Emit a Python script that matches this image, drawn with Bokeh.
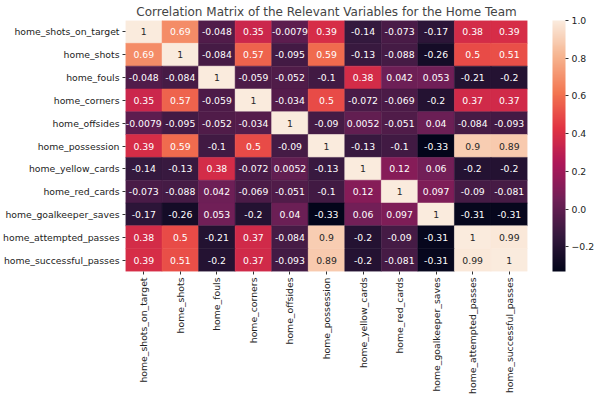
import numpy as np
from bokeh.plotting import figure
from bokeh.models import (ColumnDataSource, LinearColorMapper, ColorBar, FixedTicker)
from bokeh.core.properties import value
from bokeh.embed import file_html
from bokeh.resources import INLINE

variables = ["home_shots_on_target", "home_shots", "home_fouls", "home_corners",
             "home_offsides", "home_possession", "home_yellow_cards", "home_red_cards",
             "home_goalkeeper_saves", "home_attempted_passes", "home_successful_passes"]

row_shots_on_target = [1, 0.69, -0.048, 0.35, -0.0079, 0.39, -0.14, -0.073, -0.17, 0.38, 0.39]
row_shots = [0.69, 1, -0.084, 0.57, -0.095, 0.59, -0.13, -0.088, -0.26, 0.5, 0.51]
row_fouls = [-0.048, -0.084, 1, -0.059, -0.052, -0.1, 0.38, 0.042, 0.053, -0.21, -0.2]
row_corners = [0.35, 0.57, -0.059, 1, -0.034, 0.5, -0.072, -0.069, -0.2, 0.37, 0.37]
row_offsides = [-0.0079, -0.095, -0.052, -0.034, 1, -0.09, 0.0052, -0.051, 0.04, -0.084, -0.093]
row_possession = [0.39, 0.59, -0.1, 0.5, -0.09, 1, -0.13, -0.1, -0.33, 0.9, 0.89]
row_yellow_cards = [-0.14, -0.13, 0.38, -0.072, 0.0052, -0.13, 1, 0.12, 0.06, -0.2, -0.2]
row_red_cards = [-0.073, -0.088, 0.042, -0.069, -0.051, -0.1, 0.12, 1, 0.097, -0.09, -0.081]
row_goalkeeper_saves = [-0.17, -0.26, 0.053, -0.2, 0.04, -0.33, 0.06, 0.097, 1, -0.31, -0.31]
row_attempted_passes = [0.38, 0.5, -0.21, 0.37, -0.084, 0.9, -0.2, -0.09, -0.31, 1, 0.99]
row_successful_passes = [0.39, 0.51, -0.2, 0.37, -0.093, 0.89, -0.2, -0.081, -0.31, 0.99, 1]

rows = [row_shots_on_target, row_shots, row_fouls, row_corners, row_offsides,
        row_possession, row_yellow_cards, row_red_cards, row_goalkeeper_saves,
        row_attempted_passes, row_successful_passes]

cbar_ticks = [-0.2, 0.0, 0.2, 0.4, 0.6, 0.8, 1.0]
cbar_labels = ["\u22120.2", "0.0", "0.2", "0.4", "0.6", "0.8", "1.0"]

# rocket-like palette (seaborn)
anchors = ["#03051A", "#35193E", "#701F57", "#AD1759", "#E13342", "#F37651", "#F6B48F", "#FAEBDD"]
pos = np.linspace(0, 1, len(anchors))
rgb = np.array([[int(h[i:i + 2], 16) for i in (1, 3, 5)] for h in anchors], dtype=float)
t = np.linspace(0, 1, 256)
pal_rgb = np.stack([np.interp(t, pos, rgb[:, k]) for k in range(3)], axis=1)
palette = ["#%02x%02x%02x" % tuple(int(round(c)) for c in col) for col in pal_rgb]

flat = [v for r in rows for v in r]
vmin, vmax = min(flat), max(flat)


def color_of(v):
    idx = int(np.clip((v - vmin) / (vmax - vmin) * 255, 0, 255))
    return palette[idx], pal_rgb[idx] / 255.0


def lum(c):
    c = np.where(c <= 0.03928, c / 12.92, ((c + 0.055) / 1.055) ** 2.4)
    return 0.2126 * c[0] + 0.7152 * c[1] + 0.0722 * c[2]


xs, ys, vals, fills, labels, tcols = [], [], [], [], [], []
for i, r in enumerate(rows):
    for j, v in enumerate(r):
        xs.append(variables[j])
        ys.append(variables[i])
        vals.append(v)
        hexc, c = color_of(v)
        fills.append(hexc)
        labels.append("%g" % v)
        tcols.append("#262626" if lum(c) > 0.408 else "#ffffff")

src = ColumnDataSource(dict(x=xs, y=ys, v=vals, fill=fills, label=labels, tcol=tcols))

FS = "9.3px"

p = figure(x_range=variables, y_range=list(reversed(variables)),
           frame_width=402, frame_height=251,
           output_backend="svg", toolbar_location=None,
           min_border_left=120, min_border_right=64, min_border_top=13, min_border_bottom=0,
           title="Correlation Matrix of the Relevant Variables for the Home Team")
p.title.text_font = "DejaVu Sans"
p.title.text_font_size = "12px"
p.title.text_font_style = "normal"
p.title.align = "center"
p.title.standoff = 4

p.rect(x="x", y="y", width=1, height=1, source=src, fill_color="fill", line_color="fill", line_width=0.5)
p.text(x="x", y="y", text="label", source=src, text_color="tcol",
       text_align="center", text_baseline="middle", text_font=value("DejaVu Sans"),
       text_font_size=FS)

p.xgrid.visible = False
p.ygrid.visible = False
p.outline_line_color = None
for ax in (p.xaxis[0], p.yaxis[0]):
    ax.axis_line_color = None
    ax.major_tick_in = 0
    ax.major_tick_out = 3
    ax.major_tick_line_color = "#333333"
    ax.major_label_text_font = "DejaVu Sans"
    ax.major_label_text_font_size = FS
    ax.major_label_text_color = "#222222"
    ax.major_label_standoff = 3
p.xaxis.major_label_orientation = np.pi / 2

mapper = LinearColorMapper(palette=palette, low=vmin, high=vmax)
cb = ColorBar(color_mapper=mapper, ticker=FixedTicker(ticks=cbar_ticks),
              major_label_overrides={k: l for k, l in zip(cbar_ticks, cbar_labels)},
              location=(25, 0), orientation="vertical",
              width=13, height=251, padding=0, margin=0,
              major_tick_in=0, major_tick_out=3, major_tick_line_color="#333333",
              label_standoff=3, bar_line_color=None, border_line_color=None,
              background_fill_color=None,
              major_label_text_font="DejaVu Sans", major_label_text_font_size=FS,
              major_label_text_color="#222222")
p.add_layout(cb, "right")

open("out.html", "w").write(file_html(p, INLINE))
